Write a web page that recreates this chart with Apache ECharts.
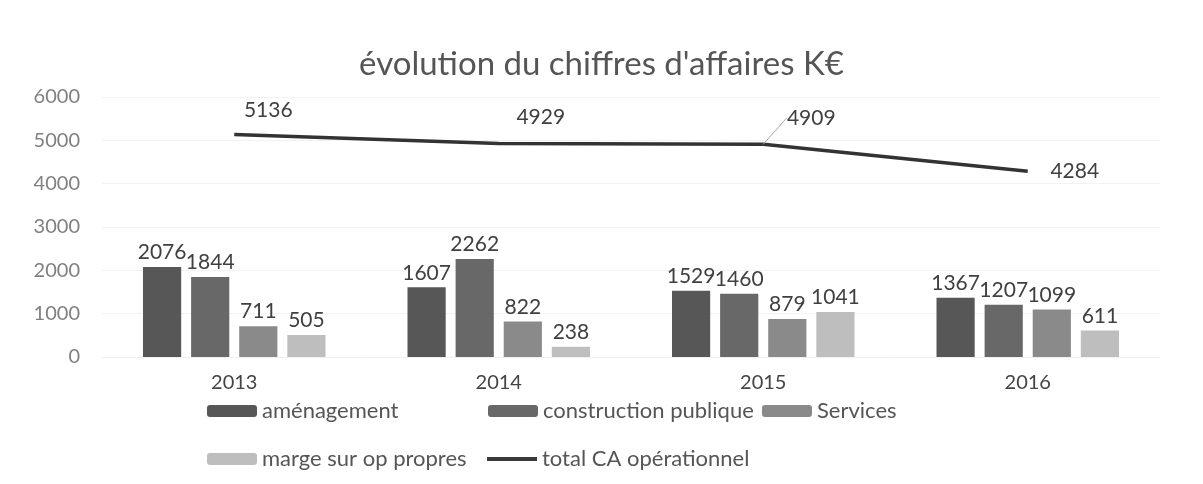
<!DOCTYPE html>
<html>
<head>
<meta charset="utf-8">
<script src="https://cdn.jsdelivr.net/npm/echarts@6/dist/echarts.min.js"></script>
<style>
  html, body { margin: 0; padding: 0; background: #fff; }
  #chart { width: 1203px; height: 484px; }
</style>
</head>
<body>
<div id="chart"></div>
<script>
const years = ['2013', '2014', '2015', '2016'];
const amenagement = [2076, 1607, 1529, 1367];
const construction = [1844, 2262, 1460, 1207];
const services = [711, 822, 879, 1099];
const marge = [505, 238, 1041, 611];
const totalCA = [5136, 4929, 4909, 4284];
const yTicks = [0, 1000, 2000, 3000, 4000, 5000, 6000];

const font = 'Lato';
const textColor = '#404040';

const barLabel = {
    show: true,
    position: 'top',
    distance: 4,
    fontSize: 21,
    color: textColor,
    fontFamily: font
};

// décalage des étiquettes de la courbe (dx, dy), comme sur l'original
const lineLabelShift = [[34, -2], [42, -4], [48, -4], [47, 22]];

const legendText = { fontFamily: font, fontSize: 22, color: '#555' };
const makeLegend = (name, left, top) => ({
    data: [name],
    left: left,
    top: top,
    itemWidth: 50,
    itemHeight: 12,
    textStyle: legendText
});

const chart = echarts.init(document.getElementById('chart'));

chart.setOption({
    backgroundColor: '#fff',
    title: {
        text: "évolution du chiffres d'affaires K€",
        left: 'center',
        top: 43,
        textStyle: { fontFamily: font, fontSize: 33, fontWeight: 'normal', color: '#555' }
    },
    legend: [
        makeLegend('aménagement', 202, 395),
        makeLegend('construction publique', 483, 395),
        makeLegend('Services', 757, 395),
        makeLegend('marge sur op propres', 202, 443),
        Object.assign(makeLegend('total CA opérationnel', 480, 443), {
            data: [{
                name: 'total CA opérationnel',
                itemStyle: { opacity: 0 },
                lineStyle: { width: 4, color: '#3a3a3a' }
            }]
        })
    ],
    grid: { left: 102, right: 43, top: 97, bottom: 127 },
    xAxis: {
        type: 'category',
        data: years,
        axisLine: { show: true, lineStyle: { color: '#f0f0f0' } },
        axisTick: { show: false },
        axisLabel: { fontFamily: font, fontSize: 20, color: '#444', margin: 16 }
    },
    yAxis: {
        type: 'value',
        min: yTicks[0],
        max: yTicks[yTicks.length - 1],
        interval: 1000,
        axisLine: { show: false },
        axisTick: { show: false },
        splitLine: { lineStyle: { color: '#f2f2f2' } },
        axisLabel: {
            fontFamily: font, fontSize: 20, color: '#808080', margin: 22,
            formatter: (v) => String(v)
        }
    },
    series: [
        {
            name: 'aménagement', type: 'bar', data: amenagement,
            barGap: '26%', barCategoryGap: '31%',
            itemStyle: { color: '#575757' }, label: barLabel
        },
        {
            name: 'construction publique', type: 'bar', data: construction,
            itemStyle: { color: '#686868' }, label: barLabel
        },
        {
            name: 'Services', type: 'bar', data: services,
            itemStyle: { color: '#8a8a8a' }, label: barLabel
        },
        {
            name: 'marge sur op propres', type: 'bar', data: marge,
            itemStyle: { color: '#bebebe' }, label: barLabel
        },
        {
            name: 'total CA opérationnel', type: 'line',
            data: totalCA.map((v, i) => ({
                value: v,
                labelLine: { show: i === 2 }
            })),
            symbol: 'circle',
            symbolSize: 0,
            lineStyle: { color: '#333', width: 3.5 },
            itemStyle: { color: '#333' },
            label: {
                show: true,
                position: 'top',
                distance: 12,
                fontSize: 21,
                color: textColor,
                fontFamily: font
            },
            labelLine: { show: false, lineStyle: { color: '#aaa', width: 1 } },
            labelLayout: (p) => ({
                dx: lineLabelShift[p.dataIndex][0],
                dy: lineLabelShift[p.dataIndex][1]
            })
        }
    ]
});
</script>
</body>
</html>
